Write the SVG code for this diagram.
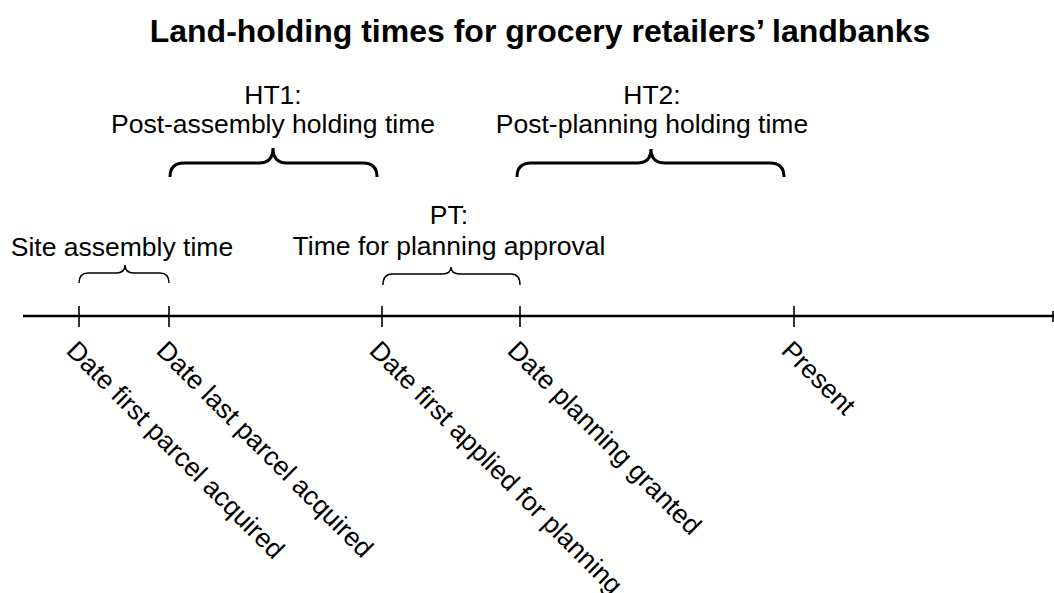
<svg xmlns="http://www.w3.org/2000/svg" width="1054" height="593" viewBox="0 0 1054 593">
<style>
text{font-family:"Liberation Sans",Arial,sans-serif;fill:#000}
.t{font-size:26.5px}
.c{text-anchor:middle}
.title{font-size:32px;font-weight:bold;text-anchor:middle}
.axis{stroke:#000;stroke-width:2.5;fill:none}
.tick{stroke:#000;stroke-width:1.6;fill:none}
.b1{stroke:#000;stroke-width:1.5;fill:none}
.b2{stroke:#000;stroke-width:3;fill:none}
</style>
<rect width="1054" height="593" fill="#fff"/>
<text class="title" x="540" y="42">Land-holding times for grocery retailers’ landbanks</text>
<g id="connectors">
<line class="axis" x1="23" y1="316" x2="1054" y2="316"/>
<path class="b1" d="M79,283 Q79,273 88,273 H116 Q125,273 125,265 Q125,273 134,273 H160 Q169,273 169,283"/>
<path class="b2" d="M170,177 Q170,163 184,163 H259 Q273,163 273,148 Q273,163 287,163 H363 Q377,163 377,177"/>
<path class="b1" d="M383,285 Q383,274 392,274 H442 Q451,274 451,267 Q451,274 460,274 H511 Q520,274 520,285"/>
<path class="b2" d="M517,177 Q517,163 531,163 H637 Q651,163 651,149 Q651,163 665,163 H770 Q784,163 784,177"/>
</g>
<g id="label-site"><text class="t c" x="122" y="256">Site assembly time</text></g>
<g id="label-ht1"><text class="t c" x="273" y="104">HT1:</text><text class="t c" x="273" y="133">Post-assembly holding time</text></g>
<g id="label-pt"><text class="t c" x="449" y="224">PT:</text><text class="t c" x="449" y="255">Time for planning approval</text></g>
<g id="label-ht2"><text class="t c" x="652" y="104">HT2:</text><text class="t c" x="652" y="133">Post-planning holding time</text></g>
<g id="tick-first-parcel"><line class="tick" x1="79" y1="306" x2="79" y2="327"/><text class="t" transform="translate(65,352) rotate(45)">Date first parcel acquired</text></g>
<g id="tick-last-parcel"><line class="tick" x1="169" y1="306" x2="169" y2="327"/><text class="t" transform="translate(155,352) rotate(45)">Date last parcel acquired</text></g>
<g id="tick-applied"><line class="tick" x1="382" y1="306" x2="382" y2="327"/><text class="t" transform="translate(368,352) rotate(45)">Date first applied for planning</text></g>
<g id="tick-granted"><line class="tick" x1="520" y1="306" x2="520" y2="327"/><text class="t" transform="translate(506,352) rotate(45)">Date planning granted</text></g>
<g id="tick-present"><line class="tick" x1="794" y1="306" x2="794" y2="327"/><text class="t" transform="translate(780,352) rotate(45)">Present</text></g>
<g id="tick-end"><line class="tick" x1="1053" y1="311" x2="1053" y2="322"/></g>
</svg>
